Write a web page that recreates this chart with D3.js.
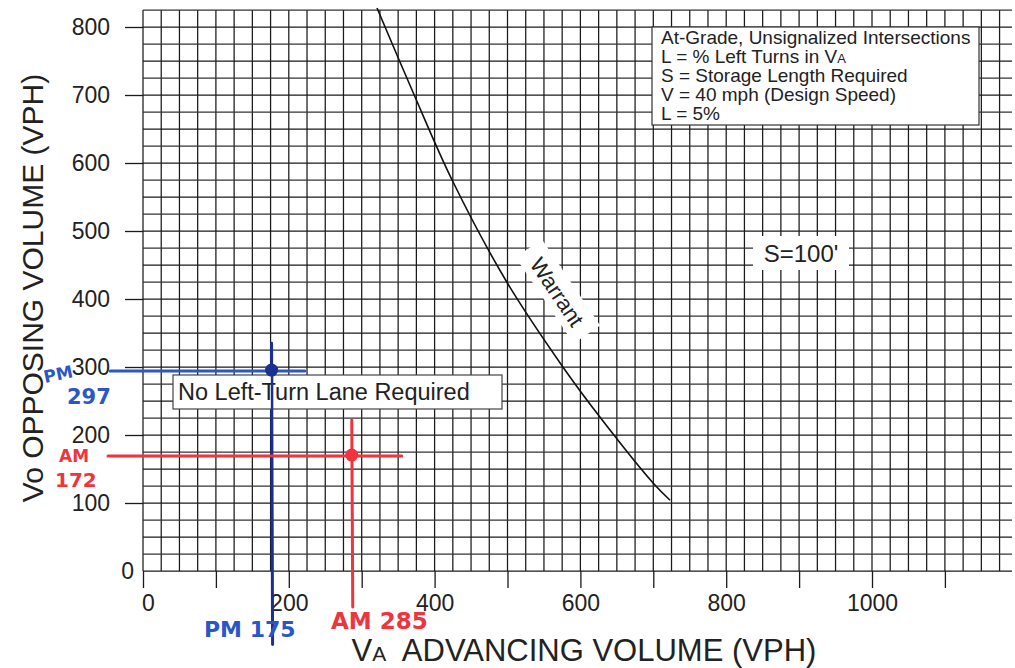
<!DOCTYPE html>
<html>
<head>
<meta charset="utf-8">
<script src="https://cdn.jsdelivr.net/npm/d3@7"></script>
<style>
  body { margin: 0; background: #fff; }
  svg { display: block; font-family: "Liberation Sans", Arial, sans-serif; }
</style>
</head>
<body>
<div id="canvas"></div>
<script>
"use strict"

/* Chart data */
let yTicks = [0, 100, 200, 300, 400, 500, 600, 700, 800];
let xTicks = [0, 100, 200, 300, 400, 500, 600, 700, 800, 900, 1000, 1100];
let xTickLabels = [0, 200, 400, 600, 800, 1000];

// warrant curve
let warrantX = [321, 372, 424, 499, 576, 627, 700, 723];
let warrantY = [828, 700, 575, 425, 300, 226, 129, 104];

// hand-drawn AM / PM points
let periods = ["PM", "AM"];
let advancing = [175, 285];
let opposing = [297, 172];

let legendLines = [
    "At-Grade, Unsignalized Intersections",
    "L = % Left Turns in V",
    "S = Storage Length Required",
    "V = 40 mph (Design Speed)",
    "L = 5%"
];

/* Drawing setup */
let svgWidth = 1015;
let svgHeight = 668;

let svg = d3.select("#canvas")
    .append("svg")
    .attr("width", svgWidth)
    .attr("height", svgHeight);

let xScale = d3.scaleLinear().domain([0, 1000]).range([143, 872]);
let yScale = d3.scaleLinear().domain([0, 800]).range([571, 27]);

let gridRight = 1012;
let gridTop = yScale(825);

/**** grid ****/
let grid = svg.append("g").attr("stroke", "#1a1a1a").attr("stroke-width", 1.25);

grid.selectAll("line.v")
    .data(d3.range(0, 1200, 25))
    .join("line")
    .attr("class", "v")
    .attr("x1", d => xScale(d))
    .attr("x2", d => xScale(d))
    .attr("y1", gridTop)
    .attr("y2", yScale(0));

grid.selectAll("line.h")
    .data(d3.range(0, 850, 25))
    .join("line")
    .attr("class", "h")
    .attr("x1", xScale(0))
    .attr("x2", gridRight)
    .attr("y1", d => yScale(d))
    .attr("y2", d => yScale(d))
    .attr("stroke", d => (d % 50 === 25 ? "#333" : null));

/**** axes ****/
let yAxis = svg.append("g")
    .attr("transform", "translate(" + xScale(0) + ",0)")
    .call(d3.axisLeft(yScale).tickValues(yTicks.filter(d => d > 0)).tickSize(18).tickPadding(15));
yAxis.select(".domain").remove();
yAxis.selectAll("line").attr("stroke", "#1a1a1a").attr("stroke-width", 1.3);
yAxis.selectAll("text").attr("font-size", 23).attr("fill", "#222").attr("font-family", "Liberation Sans, Arial, sans-serif");

// the zero label sits closer in
svg.append("text")
    .attr("x", 134)
    .attr("y", yScale(0) + 1)
    .attr("dy", "0.32em")
    .attr("text-anchor", "end")
    .attr("font-size", 23)
    .attr("fill", "#222")
    .text(yTicks[0]);

let xAxis = svg.append("g")
    .attr("transform", "translate(0," + yScale(0) + ")")
    .call(d3.axisBottom(xScale).tickValues(xTicks).tickSize(17).tickPadding(7)
        .tickFormat(d => (xTickLabels.includes(d) ? d : "")));
xAxis.select(".domain").remove();
xAxis.selectAll("line").attr("stroke", "#1a1a1a").attr("stroke-width", 1.3);
xAxis.selectAll("text").attr("font-size", 23).attr("fill", "#222").attr("font-family", "Liberation Sans, Arial, sans-serif");
xAxis.selectAll("text").filter(d => d === 0).attr("dx", 5);

/**** axis titles ****/
svg.append("text")
    .attr("transform", "translate(43,288) rotate(-90)")
    .attr("text-anchor", "middle")
    .attr("font-size", 30)
    .attr("fill", "#222")
    .text("Vo OPPOSING VOLUME (VPH)");

let xTitle = svg.append("text")
    .attr("x", 584)
    .attr("y", 661)
    .attr("text-anchor", "middle")
    .attr("font-size", 31)
    .attr("fill", "#222")
    .style("white-space", "pre");
xTitle.append("tspan").text("V");
xTitle.append("tspan").attr("font-size", 21).text("A");
xTitle.append("tspan").text("  ADVANCING VOLUME (VPH)");

/**** warrant curve ****/
let warrantLine = d3.line()
    .x((d, i) => xScale(warrantX[i]))
    .y((d, i) => yScale(warrantY[i]))
    .curve(d3.curveCatmullRom);

svg.append("path")
    .attr("d", warrantLine(warrantX))
    .attr("fill", "none")
    .attr("stroke", "#111")
    .attr("stroke-width", 1.6);

let warrantLabel = svg.append("g").attr("transform", "translate(557,292) rotate(56)");
warrantLabel.append("rect")
    .attr("x", -52).attr("y", -17).attr("width", 104).attr("height", 32)
    .attr("fill", "#fff");
warrantLabel.append("text")
    .attr("text-anchor", "middle")
    .attr("dy", "0.35em")
    .attr("font-size", 22)
    .attr("fill", "#222")
    .text("Warrant");

/**** S=100' label ****/
svg.append("rect")
    .attr("x", 753).attr("y", 236).attr("width", 96).attr("height", 34)
    .attr("fill", "#fff");
svg.append("text")
    .attr("x", 801)
    .attr("y", 262)
    .attr("text-anchor", "middle")
    .attr("font-size", 24)
    .attr("fill", "#222")
    .text("S=100'");

/**** legend box ****/
svg.append("rect")
    .attr("x", 652).attr("y", 27).attr("width", 327).attr("height", 98)
    .attr("fill", "#fff")
    .attr("stroke", "#333")
    .attr("stroke-width", 1.2);

let legendText = svg.append("g")
    .attr("font-size", 19)
    .attr("fill", "#222");
legendText.selectAll("text")
    .data(legendLines)
    .join("text")
    .attr("x", 661)
    .attr("y", (d, i) => 44 + i * 19)
    .each(function (d, i) {
        let t = d3.select(this);
        t.append("tspan").text(d);
        if (i === 1) t.append("tspan").attr("font-size", 13).text("A");
    });

/**** annotations: hand-drawn crosshairs ****/
let colorsLine = { PM: "#2b56c6", AM: "#f0343e" };
let colorsVert = { PM: "#1b2f92", AM: "#f0343e" };
let hExtent = { PM: [-45, 222], AM: [-48, 355] };
let vExtent = { PM: [335, -108], AM: [222, -53] };

periods.forEach(function (p, i) {
    svg.append("line")
        .attr("x1", xScale(hExtent[p][0])).attr("x2", xScale(hExtent[p][1]))
        .attr("y1", yScale(opposing[i]) + 2).attr("y2", yScale(opposing[i]) + 2)
        .attr("stroke", colorsLine[p]).attr("stroke-width", 3).attr("stroke-linecap", "round");
    svg.append("line")
        .attr("x1", xScale(advancing[i]) + 1).attr("x2", xScale(advancing[i]) + 2)
        .attr("y1", yScale(vExtent[p][0])).attr("y2", yScale(vExtent[p][1]))
        .attr("stroke", colorsVert[p]).attr("stroke-width", 3).attr("stroke-linecap", "round");
});

/**** No Left-Turn Lane Required box (drawn over blue crosshair) ****/
svg.append("rect")
    .attr("x", 173).attr("y", 375).attr("width", 329).attr("height", 34)
    .attr("fill", "#fff")
    .attr("stroke", "#444")
    .attr("stroke-width", 1.2);
svg.append("text")
    .attr("x", 178)
    .attr("y", 400)
    .attr("font-size", 23.5)
    .attr("fill", "#222")
    .text("No Left-Turn Lane Required");

// the blue vertical shows through the box
svg.append("line")
    .attr("x1", xScale(advancing[0]) + 1.5).attr("x2", xScale(advancing[0]) + 1.5)
    .attr("y1", 375).attr("y2", 409)
    .attr("stroke", colorsVert.PM).attr("stroke-width", 2.5);

periods.forEach(function (p, i) {
    svg.append("circle")
        .attr("cx", xScale(advancing[i]) + 1)
        .attr("cy", yScale(opposing[i]) + 1)
        .attr("r", 6.5)
        .attr("fill", colorsVert[p]);
});

/**** handwritten notes ****/
let hand = svg.append("g")
    .attr("font-family", "DejaVu Sans, sans-serif")
    .attr("font-weight", "bold");

hand.append("text").attr("transform", "translate(45,383) rotate(-12)")
    .attr("font-size", 17).attr("fill", colorsLine.PM).text("PM");
hand.append("text").attr("x", 67).attr("y", 404)
    .attr("font-size", 21).attr("fill", colorsLine.PM).text(opposing[0]);
hand.append("text").attr("x", 59).attr("y", 462)
    .attr("font-size", 17).attr("fill", colorsLine.AM).text("AM");
hand.append("text").attr("x", 55).attr("y", 487)
    .attr("font-size", 20).attr("fill", colorsLine.AM).text(opposing[1]);
hand.append("text").attr("x", 204).attr("y", 637)
    .attr("font-size", 22).attr("fill", colorsLine.PM).text("PM " + advancing[0]);
hand.append("text").attr("x", 331).attr("y", 629)
    .attr("font-size", 23).attr("fill", colorsLine.AM).text("AM " + advancing[1]);
</script>
</body>
</html>
